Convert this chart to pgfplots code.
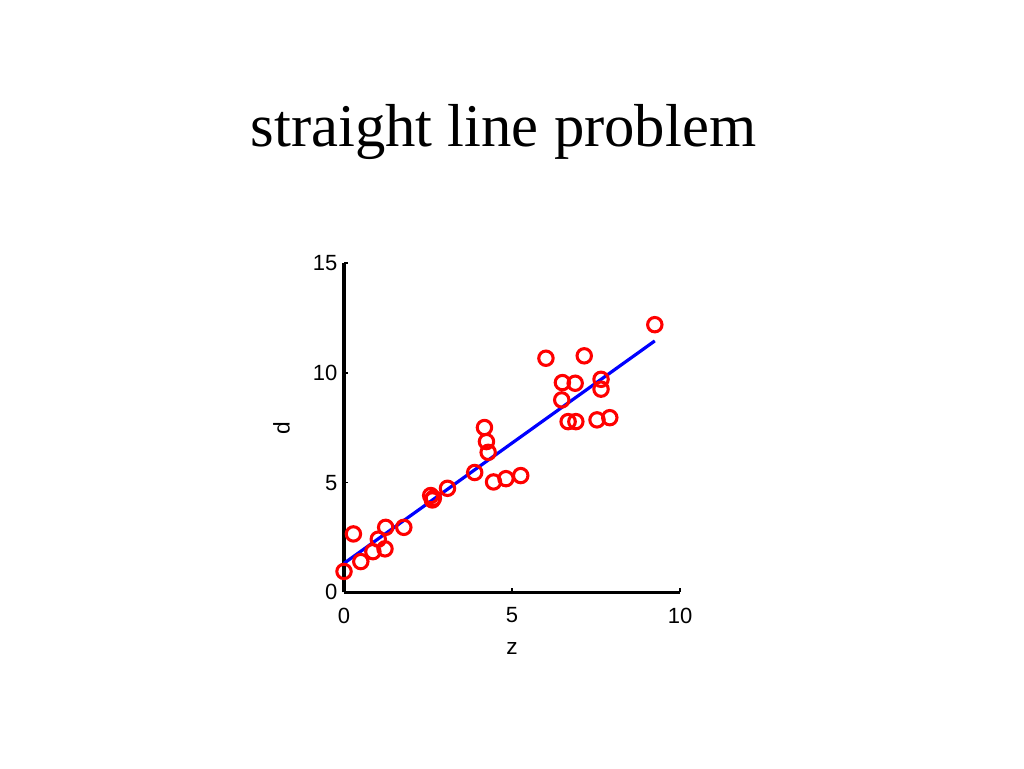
\documentclass[border=0pt]{standalone}
\usepackage{pgfplots}
\pgfplotsset{compat=1.18}
\usepackage{fontspec}
\setmainfont{Liberation Sans}
\newfontfamily\titlefont{Liberation Serif}
\begin{document}
\begin{tikzpicture}
\path[use as bounding box] (0,0) rectangle (768pt,576pt);
\node[anchor=base, font=\titlefont\fontsize{45.5}{50}\selectfont] at (377.6pt,466pt) {straight line problem};
\begin{axis}[
  at={(258pt,131.8pt)}, anchor=south west,
  scale only axis, width=252pt, height=246.75pt,
  xmin=0, xmax=10, ymin=0, ymax=15,
  xtick={0,5,10}, ytick={0,5,10,15},
  axis x line=bottom, axis y line=left,
  axis line style={line width=2.6pt, -},
  tick align=inside, major tick length=3pt,
  tick style={black, line width=1.2pt},
  /pgf/number format/assume math mode=true,
  ticklabel style={font=\fontsize{16.5}{19}\selectfont},
  xticklabel style={yshift=-8pt},
  yticklabel style={xshift=-1.5pt},
  label style={font=\fontsize{17}{20}\selectfont},
  xlabel={z}, ylabel={d},
  xlabel style={at={(axis description cs:0.5,-0.17)}, anchor=center},
  ylabel style={at={(axis description cs:-0.186,0.5)}, anchor=center},
  clip=false,
]
\addplot[only marks, mark=o, red, mark size=5.4pt, mark options={line width=2.3pt}] coordinates {
(0.00,0.95) (0.28,2.66) (0.50,1.40) (0.86,1.85) (1.02,2.42) (1.22,1.98)
(1.24,2.96) (1.78,2.96) (2.58,4.41) (2.63,4.21) (2.66,4.29) (3.08,4.74)
(3.89,5.46) (4.18,7.51) (4.24,6.87) (4.29,6.38) (4.45,5.03) (4.82,5.18)
(5.26,5.32) (6.01,10.67) (6.50,9.56) (6.48,8.77) (6.88,9.53) (6.67,7.78)
(6.90,7.78) (7.15,10.78) (7.65,9.71) (7.65,9.26) (7.53,7.86) (7.91,7.96)
(9.25,12.20)
};
\addplot[blue, line width=2.4pt] coordinates {(0.00,1.32) (9.25,11.46)};
\end{axis}
\end{tikzpicture}
\end{document}
